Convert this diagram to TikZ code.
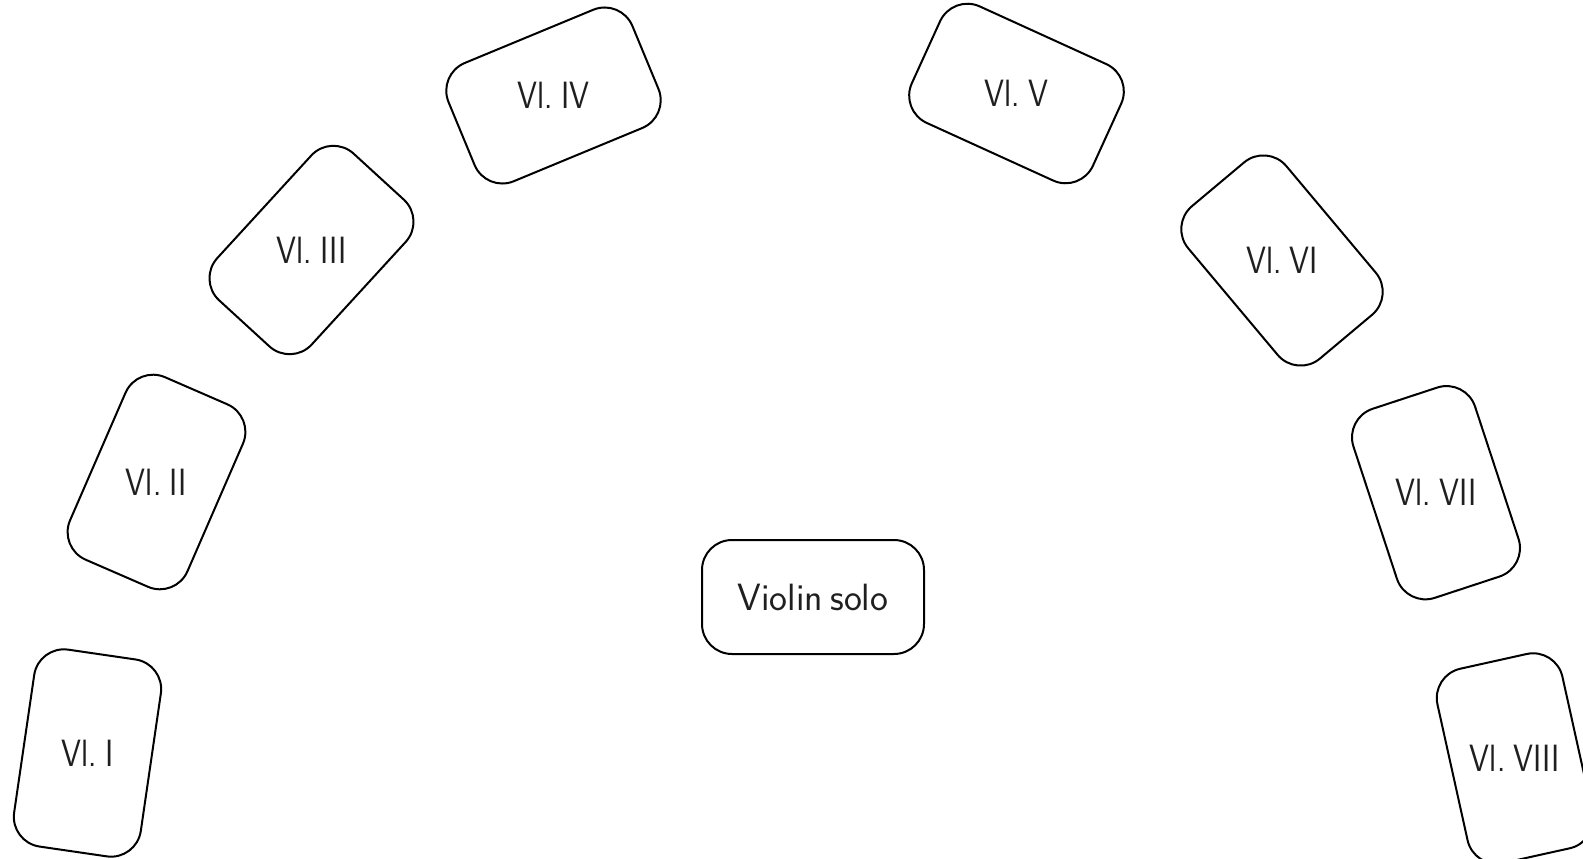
\documentclass[tikz,border=0pt]{standalone}
\usepackage{fontspec}
\newcommand\lblspacing{\frenchspacing\spaceskip=0.19em plus 0pt minus 0pt\relax}
\newcommand\vlblspacing{\frenchspacing\spaceskip=0.26em plus 0pt minus 0pt\relax}
\begin{document}
\begin{tikzpicture}[x=1pt,y=-1pt,
  vbox/.style={draw, line width=2pt, rounded corners=30pt, inner sep=0pt,
    minimum width=199pt, minimum height=128pt},
  solobox/.style={draw, line width=2pt, rounded corners=30pt, inner sep=0pt,
    minimum width=222pt, minimum height=114pt},
  lbl/.style={font=\sffamily\fontsize{38}{44}\selectfont,
    execute at begin node=\lblspacing,
    inner sep=0pt, text=black!88},
  vlbl/.style={font=\sffamily\fontsize{38}{44}\selectfont,
    execute at begin node=\vlblspacing,
    inner sep=0pt, text=black!88, xscale=0.84}]
\useasboundingbox (0,0) rectangle (1583,859);
\node[vbox, rotate=81.7]  (v1) at (87.5,753) {};
\node[vbox, rotate=66.5]  (v2) at (156.5,482) {};
\node[vbox, rotate=47.5]  (v3) at (311.5,250) {};
\node[vbox, rotate=22.5]  (v4) at (553.5,95.5) {};
\node[vbox, rotate=-24.5] (v5) at (1016.5,93.5) {};
\node[vbox, rotate=-50]   (v6) at (1282,260.5) {};
\node[vbox, rotate=-71.8] (v7) at (1436,492.7) {};
\node[vbox, rotate=-77.5] (v8) at (1515,758.5) {};
\node[solobox] (solo) at (813,597) {};
\node[vlbl] (t1) at (v1.center) {Vl. I};
\node[vlbl] (t2) at (v2.center) {Vl. II};
\node[vlbl] (t3) at (v3.center) {Vl. III};
\node[vlbl] (t4) at (v4.center) {Vl. IV};
\node[vlbl] (t5) at (v5.center) {Vl. V};
\node[vlbl] (t6) at (v6.center) {Vl. VI};
\node[vlbl] (t7) at (v7.center) {Vl. VII};
\node[vlbl] (t8) at (v8.center) {Vl. VIII};
\node[lbl] (ts) at (solo.center) {Violin solo};
\end{tikzpicture}
\end{document}
